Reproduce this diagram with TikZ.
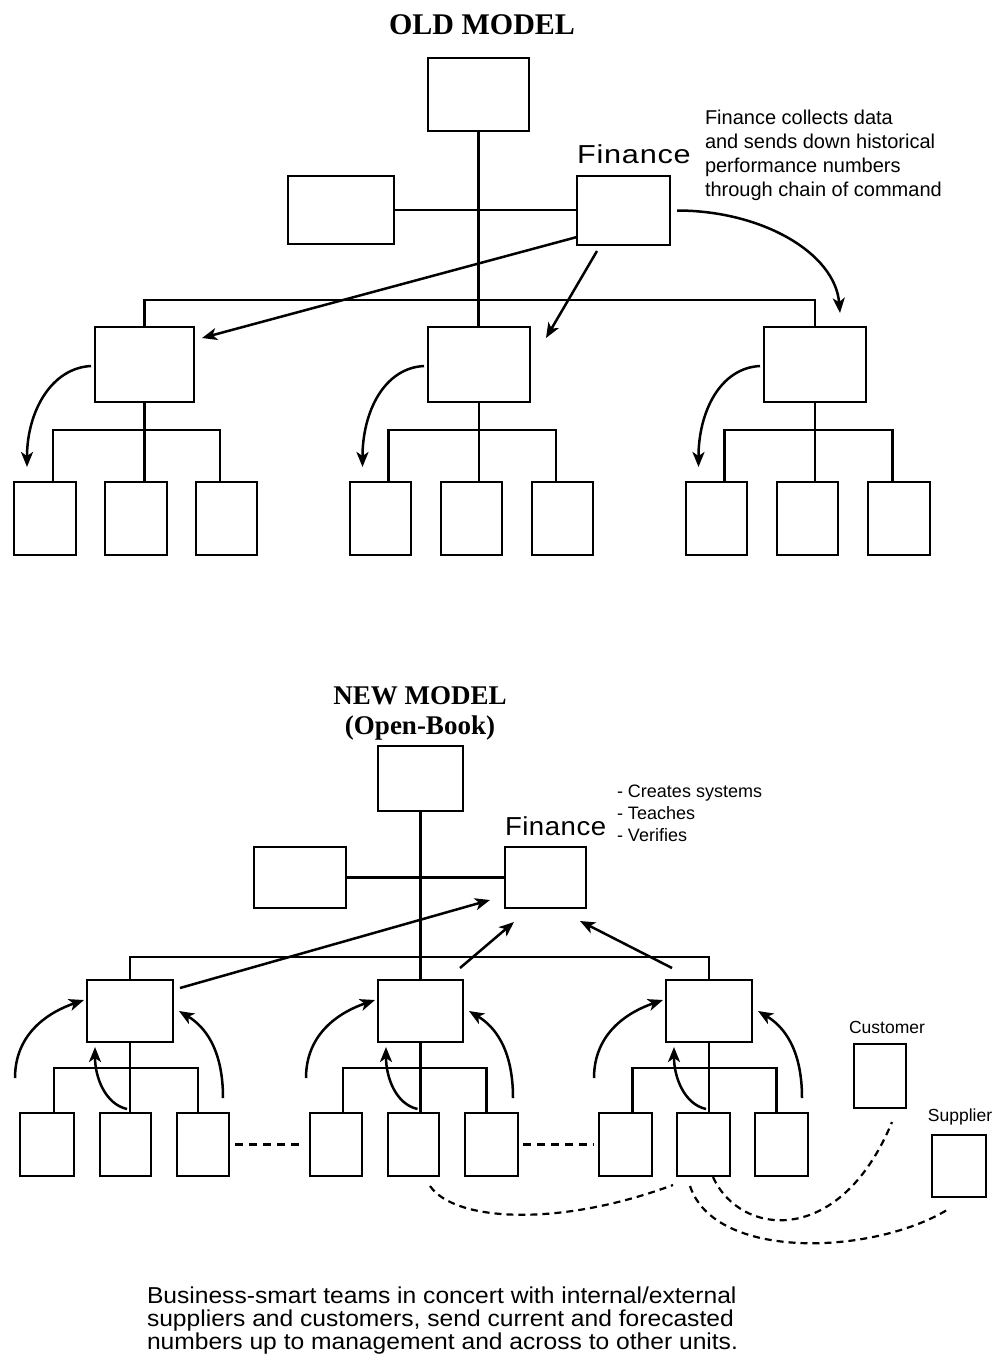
\documentclass[tikz,border=0pt]{standalone}
\usepackage{fontspec}
\setmainfont{Liberation Serif}
\newfontfamily\arialfont{Liberation Sans}
\newfontfamily\finold[FakeStretch=1.18,LetterSpace=3]{Liberation Sans}
\newfontfamily\finnew[FakeStretch=1.06,LetterSpace=2]{Liberation Sans}
\newfontfamily\arialwide[FakeStretch=1.07]{Liberation Sans}
\usetikzlibrary{arrows.meta}
\newcommand\mkbox[5]{\node[orgbox, minimum width={(#4-#2)*1pt}, minimum height={(#5-#3)*1pt}] (#1) at ({(#2+#4)/2},{(#3+#5)/2}) {};}
\begin{document}
\begin{tikzpicture}[x=1pt, y=-1pt,
  orgbox/.style={draw, line width=2.8pt, inner sep=0pt, outer sep=0pt},
  conn/.style={line width=2.5pt},
  arr/.style={line width=2.5pt, -{Stealth[length=15pt,width=12pt,inset=4pt]}},
  dsh/.style={line width=2.2pt, dash pattern=on 7pt off 5pt},
  dshb/.style={line width=2.6pt, dash pattern=on 8pt off 6pt},
  txt/.style={inner sep=0pt, outer sep=0pt}]
\fill[white] (0,0) rectangle (1000,1360);
\path[use as bounding box] (0,0) rectangle (1000,1360);

% ================= OLD MODEL =================
\node[txt, font=\bfseries\fontsize{30}{30}\selectfont] (oldtitle) at (482,25) {OLD MODEL};
\mkbox{otop}{428}{58}{529}{131}
\mkbox{oleft}{288}{176}{394}{244}
\mkbox{ofin}{577}{176}{670}{245}
\mkbox{omL}{95}{327}{194}{402}
\mkbox{omM}{428}{327}{530}{402}
\mkbox{omR}{764}{327}{866}{402}
\mkbox{ob1}{14}{482}{76}{555}
\mkbox{ob2}{105}{482}{167}{555}
\mkbox{ob3}{196}{482}{257}{555}
\mkbox{ob4}{350}{482}{411}{555}
\mkbox{ob5}{441}{482}{502}{555}
\mkbox{ob6}{532}{482}{593}{555}
\mkbox{ob7}{686}{482}{747}{555}
\mkbox{ob8}{777}{482}{838}{555}
\mkbox{ob9}{868}{482}{930}{555}

\node[txt, font=\finold\fontsize{26}{26}\selectfont, anchor=base west] (ofinlabel) at (577,163) {Finance};
\node[txt, font=\arialfont\fontsize{20}{24}\selectfont, align=left, anchor=north west] (onote) at (705,110)
  {Finance collects data\\and sends down historical\\performance numbers\\through chain of command};

\draw[conn] (otop.south) -- (otop.south |- omM.north);
\draw[conn] (oleft.east) -- (oleft.east -| ofin.west);
\coordinate (obar) at (0,300);
\draw[conn] (omL.north) -- (omL.north |- obar) -- (omR.north |- obar) -- (omR.north);
\foreach \m/\a/\b/\c in {omL/ob1/ob2/ob3, omM/ob4/ob5/ob6, omR/ob7/ob8/ob9}{
  \draw[conn] ([xshift=8pt]\a.north) |- ([xshift=-6.5pt,yshift=52pt]\c.north) -- ([xshift=-6.5pt]\c.north);
  \draw[conn] (\m.south) -- (\m.south |- \b.north);
}
\draw[arr] ([yshift=-26.5pt]ofin.west) -- ([xshift=8pt,yshift=-11pt]omL.north east);
\draw[arr] ([xshift=-26.5pt,yshift=-6pt]ofin.south) -- ([xshift=16pt,yshift=-11pt]omM.north east);
\draw[arr] ([xshift=7pt]ofin.east) .. controls +(85,0) and +(-5,-60) .. ([xshift=25pt,yshift=14pt]omR.north);
\foreach \m/\a in {omL/ob1, omM/ob4, omR/ob7}{
  \draw[arr] ([xshift=-4pt,yshift=-1.5pt]\m.west) .. controls +(-40,2) and +(0,-55) .. ([xshift=-18pt,yshift=15pt]\a.north);
}

% ================= NEW MODEL =================
\node[txt, font=\bfseries\fontsize{27}{30}\selectfont, align=center] (newtitle) at (420,713) {NEW MODEL\\(Open-Book)};
\mkbox{ntop}{378}{746}{463}{811}
\mkbox{nleft}{254}{847}{346}{908}
\mkbox{nfin}{505}{847}{586}{908}
\mkbox{nmL}{87}{980}{173}{1042}
\mkbox{nmM}{378}{980}{463}{1042}
\mkbox{nmR}{666}{980}{752}{1042}
\mkbox{nb1}{20}{1113}{74}{1176}
\mkbox{nb2}{100}{1113}{151}{1176}
\mkbox{nb3}{177}{1113}{229}{1176}
\mkbox{nb4}{310}{1113}{362}{1176}
\mkbox{nb5}{388}{1113}{439}{1176}
\mkbox{nb6}{465}{1113}{518}{1176}
\mkbox{nb7}{599}{1113}{652}{1176}
\mkbox{nb8}{677}{1113}{730}{1176}
\mkbox{nb9}{755}{1113}{808}{1176}
\mkbox{ncust}{854}{1044}{906}{1108}
\mkbox{nsupp}{932}{1135}{986}{1197}

\node[txt, font=\finnew\fontsize{26}{26}\selectfont, anchor=base west] (nfinlabel) at (505,835) {Finance};
\node[txt, font=\arialfont\fontsize{18}{22}\selectfont, align=left, anchor=north west] (nnote) at (617,785)
  {- Creates systems\\- Teaches\\- Verifies};
\node[txt, font=\arialfont\fontsize{17.5}{17.5}\selectfont] (custlabel) at (887,1027) {Customer};
\node[txt, font=\arialfont\fontsize{17.5}{17.5}\selectfont] (supplabel) at (960,1117) {Supplier};

\draw[conn] (ntop.south) -- (ntop.south |- nmM.north);
\draw[conn] (nleft.east) -- (nleft.east -| nfin.west);
\coordinate (nbar) at (0,957);
\draw[conn] (nmL.north) -- (nmL.north |- nbar) -- (nmR.north |- nbar) -- (nmR.north);
\foreach \m/\a/\b/\c in {nmL/nb1/nb2/nb3, nmM/nb4/nb5/nb6, nmR/nb7/nb8/nb9}{
  \draw[conn] ([xshift=7pt]\a.north) |- ([xshift=-5pt,yshift=45pt]\c.north) -- ([xshift=-5pt]\c.north);
  \draw[conn] (\m.south) -- (\m.south |- \b.north);
}
\draw[arr] ([xshift=7pt,yshift=-8pt]nmL.north east) -- ([xshift=-15pt,yshift=8pt]nfin.south west);
\draw[arr] ([xshift=-3pt,yshift=12pt]nmM.north east) -- ([xshift=9pt,yshift=-14pt]nfin.south west);
\draw[arr] ([xshift=6pt,yshift=12pt]nmR.north west) -- ([xshift=-6pt,yshift=-13pt]nfin.south east);
\foreach \m in {nmL, nmM, nmR}{
  \draw[arr] ([xshift=-72pt,yshift=-67pt]\m.west) .. controls +(0,-45) and +(-35,12) .. ([xshift=-3pt,yshift=11pt]\m.west);
  \draw[arr] ([xshift=-3pt,yshift=-67pt]\m.south) .. controls +(-22,-5) and +(0,30) .. ([xshift=8pt,yshift=-5pt]\m.south west);
  \draw[arr] ([xshift=50pt,yshift=-87pt]\m.east) .. controls +(0,-50) and +(25,15) .. ([xshift=6pt]\m.east);
}
\draw[dshb] ([xshift=6pt]nb3.east) -- ([xshift=-8pt]nb4.west);
\draw[dshb] ([xshift=5pt]nb6.east) -- ([xshift=-5pt]nb7.west);
\draw[dsh] ([xshift=-9pt,yshift=-10pt]nb5.south east) .. controls +(25,36) and +(-113,42) .. ([xshift=-4pt,yshift=-9pt]nb8.south west);
\draw[dsh] ([xshift=9.5pt,yshift=-1pt]nb8.south) .. controls +(27,60) and +(-52,126) .. ([xshift=12pt,yshift=-14pt]ncust.south);
\draw[dsh] ([xshift=-13.5pt,yshift=-10pt]nb8.south) .. controls +(25,75) and +(-75,45) .. ([xshift=-12pt,yshift=-13pt]nsupp.south);

\node[txt, font=\arialwide\fontsize{23}{23}\selectfont, align=left, anchor=north west] (summary) at (147,1287)
  {Business-smart teams in concert with internal/external\\suppliers and customers, send current and forecasted\\numbers up to management and across to other units.};
\end{tikzpicture}
\end{document}
